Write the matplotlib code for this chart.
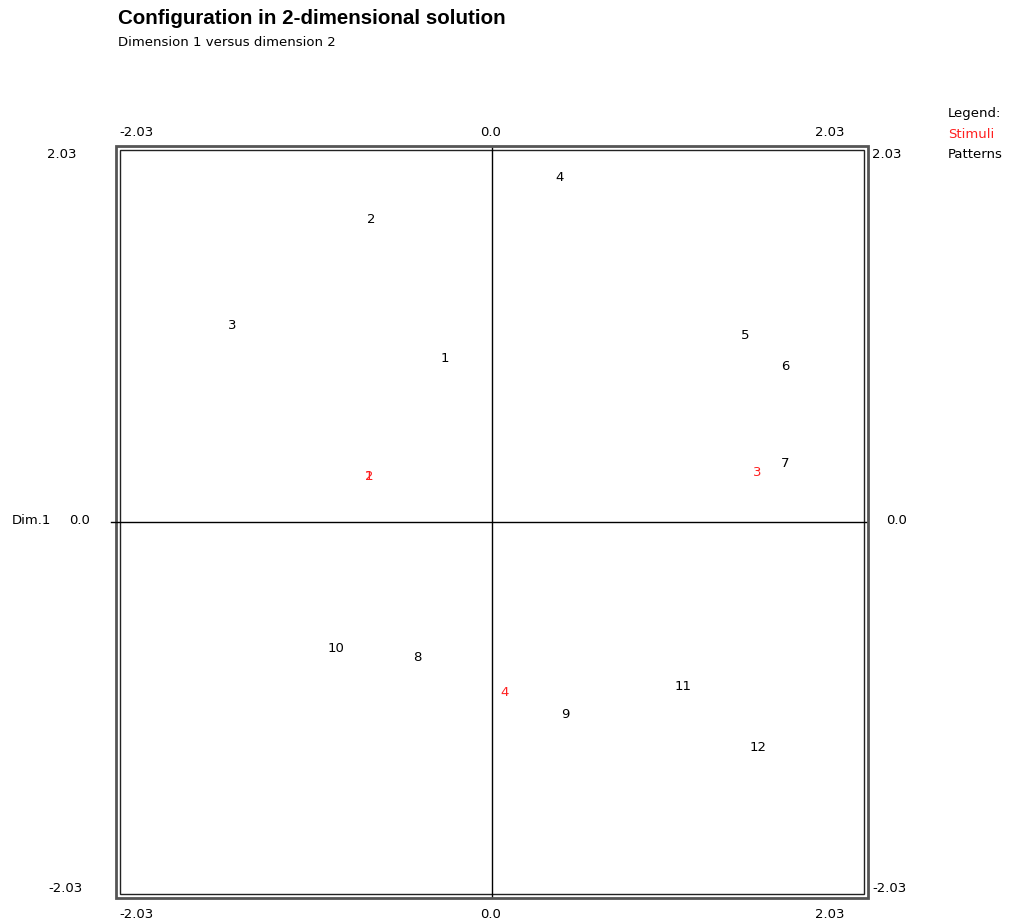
import matplotlib

matplotlib.use("Agg")
import matplotlib.pyplot as plt
from matplotlib.patches import Rectangle

plt.rcParams["font.family"] = ["DejaVu Sans"]

LIM = 2.03

# pattern points (black) and stimuli points (red), dimension 1 / dimension 2
pattern_labels = ["1", "2", "3", "4", "5", "6", "7", "8", "9", "10", "11", "12"]
pattern_x = [-0.26, -0.66, -1.42, 0.37, 1.38, 1.60, 1.60, -0.41, 0.40, -0.85, 1.04, 1.45]
pattern_y = [0.89, 1.65, 1.07, 1.88, 1.02, 0.85, 0.32, -0.74, -1.05, -0.69, -0.90, -1.23]

stim_labels = ["1", "2", "3", "4"]
stim_x = [-0.67, -0.67, 1.45, 0.07]
stim_y = [0.25, 0.25, 0.27, -0.93]

RED = "#ff2020"
FS = 9.5

W, H = 1016, 924
fig = plt.figure(figsize=(W / 100, H / 100), dpi=100)
ax = fig.add_axes([120 / W, (H - 894) / H, 744 / W, 744 / H])
ax.set_xlim(-LIM, LIM)
ax.set_ylim(-LIM, LIM)
ax.axis("off")

# double frame
for pad, lw, col in [(0.0, 1.0, "#222222"), (0.005, 2.0, "#555555")]:
    ax.add_patch(Rectangle((-pad, -pad), 1 + 2 * pad, 1 + 2 * pad, transform=ax.transAxes,
                           fill=False, lw=lw, ec=col, clip_on=False))

# axis cross
ax.plot([-LIM - 0.05, LIM + 0.01], [0, 0], color="black", lw=1, clip_on=False)
ax.plot([0, 0], [-LIM - 0.01, LIM + 0.01], color="black", lw=1, clip_on=False)

for lab, x, y in zip(pattern_labels, pattern_x, pattern_y):
    ax.text(x, y, lab, color="black", fontsize=FS, ha="center", va="center")
for lab, x, y in zip(stim_labels, stim_x, stim_y):
    ax.text(x, y, lab, color=RED, fontsize=FS, ha="center", va="center")


def px(x, y, s, **kw):
    fig.text(x / W, 1 - y / H, s, fontsize=FS, va="center", **kw)


# top / bottom tick labels
for y in (133, 915):
    px(136, y, "-2.03", ha="center")
    px(491, y, "0.0", ha="center")
    px(830, y, "2.03", ha="center")
# left tick labels
px(77, 155, "2.03", ha="right")
px(90, 520, "0.0", ha="right")
px(83, 888, "-2.03", ha="right")
px(12, 520, "Dim.1", ha="left")
# right tick labels
px(872, 155, "2.03", ha="left")
px(886, 520, "0.0", ha="left")
px(872, 888, "-2.03", ha="left")

# legend
px(948, 114, "Legend:", ha="left")
px(948, 135, "Stimuli", ha="left", color=RED)
px(948, 155, "Patterns", ha="left")

fig.text(118 / W, 1 - 18 / H, "Configuration in 2-dimensional solution", fontsize=14.75,
         fontweight="bold", family="Liberation Sans", ha="left", va="center")
fig.text(118 / W, 1 - 43 / H, "Dimension 1 versus dimension 2", fontsize=FS,
         ha="left", va="center")

fig.savefig("out.png", dpi=100)
